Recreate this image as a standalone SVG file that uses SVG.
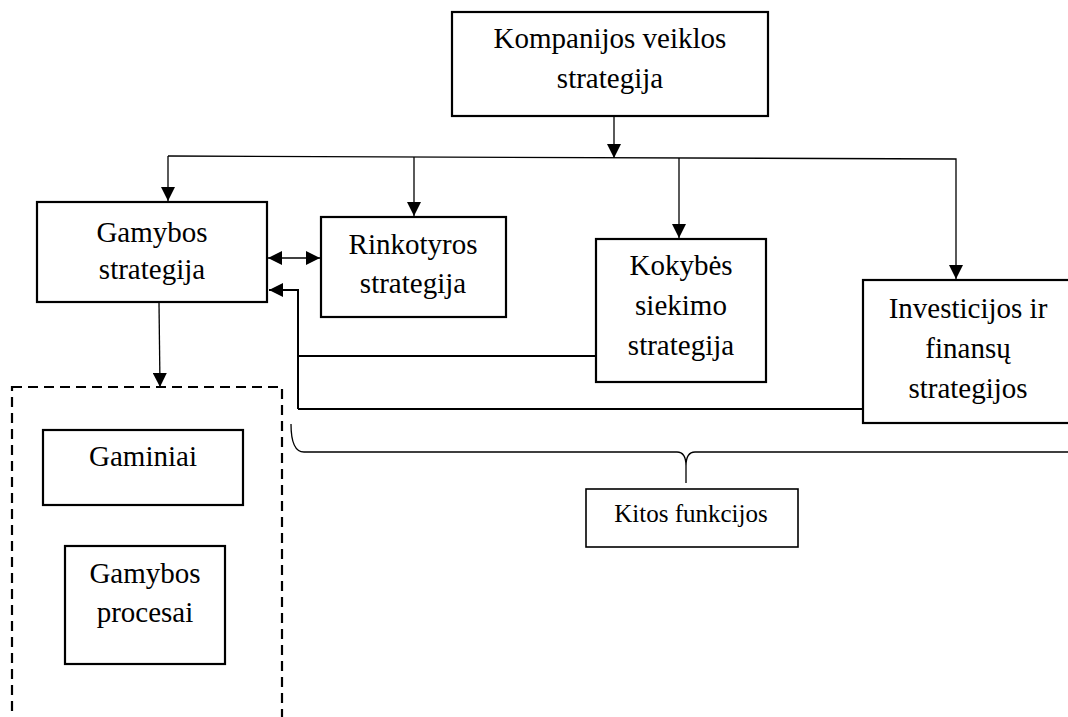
<svg xmlns="http://www.w3.org/2000/svg" width="1068" height="717" viewBox="0 0 1068 717" font-family="'Times New Roman', 'Liberation Serif', serif">
  <style>
    .box { fill: #ffffff; stroke: #000000; stroke-width: 2.2; }
    .thin { fill: #ffffff; stroke: #000000; stroke-width: 1.6; }
    .dash { fill: none; stroke: #000000; stroke-width: 2.2; stroke-dasharray: 10 6; }
    .lbl { font-size: 29px; fill: #000000; text-anchor: middle; }
    .small { font-size: 25px; }
    .wire { fill: none; stroke: #000000; stroke-width: 1.3; }
    .bold { fill: none; stroke: #000000; stroke-width: 2; }
  </style>
  <defs>
    <marker id="head" markerUnits="userSpaceOnUse" markerWidth="14" markerHeight="14" refX="14" refY="7" orient="auto">
      <path d="M0,0 L14,7 L0,14 z" fill="#000000"/>
    </marker>
    <marker id="tail" markerUnits="userSpaceOnUse" markerWidth="14" markerHeight="14" refX="0" refY="7" orient="auto">
      <path d="M14,0 L0,7 L14,14 z" fill="#000000"/>
    </marker>
  </defs>
  <rect width="1068" height="717" fill="#ffffff"/>

  <g id="connectors">
    <!-- top down to the distribution bus -->
    <line class="wire" x1="614" y1="117" x2="614" y2="158" marker-end="url(#head)"/>
    <polyline class="wire" points="168,156 956,159 956,279" marker-end="url(#head)"/>
    <line class="wire" x1="168" y1="156" x2="168" y2="201" marker-end="url(#head)"/>
    <line class="wire" x1="414" y1="157" x2="414" y2="216" marker-end="url(#head)"/>
    <line class="wire" x1="679" y1="158" x2="679" y2="238" marker-end="url(#head)"/>
    <!-- link between production and market research -->
    <line class="wire" x1="268" y1="258" x2="320" y2="258" marker-start="url(#tail)" marker-end="url(#head)"/>
    <!-- feedback from quality and finance -->
    <polyline class="bold" points="298,409 298,290 269,290" marker-end="url(#head)"/>
    <line class="bold" x1="298" y1="356" x2="596" y2="356"/>
    <line class="bold" x1="298" y1="409" x2="863" y2="409"/>
    <!-- production down to its group -->
    <line class="wire" x1="159" y1="303" x2="160" y2="387" marker-end="url(#head)"/>
    <!-- brace grouping the other functions -->
    <path class="wire" d="M291,424 Q291,452 304,452 L677,452 Q686,452 686,466 L686,483 M686,466 Q686,452 695,452 L1068,452"/>
  </g>

  <g id="node-kompanijos">
    <rect class="box" x="452" y="12" width="316" height="104"/>
    <text class="lbl" x="610" y="48">Kompanijos veiklos</text>
    <text class="lbl" x="610" y="88">strategija</text>
  </g>

  <g id="node-gamybos">
    <rect class="box" x="37" y="202" width="230" height="100"/>
    <text class="lbl" x="152" y="242">Gamybos</text>
    <text class="lbl" x="152" y="279">strategija</text>
  </g>

  <g id="node-rinkotyros">
    <rect class="box" x="321" y="217" width="185" height="100"/>
    <text class="lbl" x="413" y="254">Rinkotyros</text>
    <text class="lbl" x="413" y="293">strategija</text>
  </g>

  <g id="node-kokybes">
    <rect class="box" x="596" y="239" width="170" height="143"/>
    <text class="lbl" x="681" y="275">Kokybės</text>
    <text class="lbl" x="681" y="315">siekimo</text>
    <text class="lbl" x="681" y="355">strategija</text>
  </g>

  <g id="node-investicijos">
    <rect class="box" x="863" y="280" width="210" height="143"/>
    <text class="lbl" x="968" y="318">Investicijos ir</text>
    <text class="lbl" x="968" y="358">finansų</text>
    <text class="lbl" x="968" y="398">strategijos</text>
  </g>

  <g id="group-gamyba">
    <rect class="dash" x="12" y="387" width="270" height="340"/>
  </g>

  <g id="node-gaminiai">
    <rect class="box" x="43" y="430" width="200" height="75"/>
    <text class="lbl" x="143" y="466">Gaminiai</text>
  </g>

  <g id="node-procesai">
    <rect class="box" x="65" y="546" width="160" height="118"/>
    <text class="lbl" x="145" y="583">Gamybos</text>
    <text class="lbl" x="145" y="622">procesai</text>
  </g>

  <g id="node-kitos">
    <rect class="thin" x="586" y="489" width="212" height="58"/>
    <text class="lbl small" x="691" y="522">Kitos funkcijos</text>
  </g>
</svg>
